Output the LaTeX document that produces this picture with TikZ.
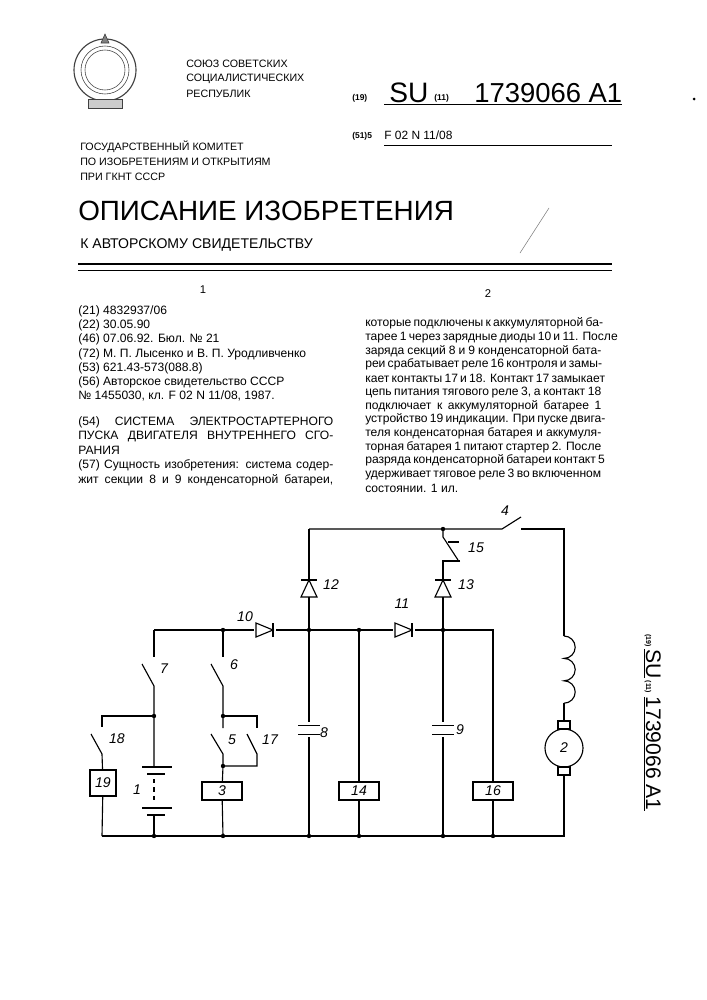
\documentclass[tikz,border=0pt]{standalone}
\usepackage{fontspec}
\setmainfont{Liberation Sans}
\usetikzlibrary{positioning}
\newcommand{\px}[1]{\fontsize{#1}{#1}\selectfont}
\tikzset{
  wire/.style={black, thick},
  lbl/.style={font=\px{10}\itshape},
  relay/.style={draw, thick, minimum width=1cm, minimum height=0.45cm, inner sep=0pt, font=\px{10}\itshape},
  dot/.style={circle, fill=black, inner sep=1.1pt},
  txt/.style={anchor=west, inner sep=0pt, font=\px{8.6}},
  pics/diodeR/.style={code={
    \draw[thick] (-9,-7) -- (-9,7) -- (8,0) -- cycle;
    \draw[thick] (8,-7) -- (8,7);}},
  pics/diodeU/.style={code={
    \draw[thick] (-8,9) -- (8,9) -- (0,-8) -- cycle;
    \draw[thick] (-8,-8) -- (8,-8);}},
  pics/capH/.style={code={
    \draw[thick] (-11,-4.5) -- (11,-4.5);
    \draw[thick] (-11,4.5) -- (11,4.5);}}
}
\begin{document}
\begin{tikzpicture}[x=0.025cm, y=-0.025cm]
  \useasboundingbox (0,0) rectangle (707,1000);
  % emblem
  \draw[black!75, thick] (105,70) circle (31);
  \draw[black!75] (105,70) circle (20);
  \draw[black!75] (105,70) circle (24);
  \draw[black!75, fill=black!50] (105,34) -- (109,43) -- (101,43) -- cycle;
  \draw[black!75, fill=black!20] (88,99) rectangle (122,108);
  % header
  \node[txt, font=\px{7.6}] at (186,64) {СОЮЗ СОВЕТСКИХ};
  \node[txt, font=\px{7.6}] at (186,79) {СОЦИАЛИСТИЧЕСКИХ};
  \node[txt, font=\px{7.6}] at (186,94) {РЕСПУБЛИК};
  \node[txt, font=\px{7.6}] at (80,147) {ГОСУДАРСТВЕННЫЙ КОМИТЕТ};
  \node[txt, font=\px{7.6}] at (80,162) {ПО ИЗОБРЕТЕНИЯМ И ОТКРЫТИЯМ};
  \node[txt, font=\px{7.6}] at (80,177) {ПРИ ГКНТ СССР};
  \node[txt, font=\px{6}\bfseries] at (352,98) {(19)};
  \node[txt, font=\px{20}] at (389,93) {SU};
  \node[txt, font=\px{6}\bfseries] at (434,98) {(11)};
  \node[txt, font=\px{19.5}] at (474,93) {1739066\ A1};
  \draw (384,104) -- (622,104);
  \fill (694,99) circle (1.5);
  \node[txt, font=\px{6}\bfseries] at (352,136) {(51)5};
  \node[txt, font=\px{8.5}] at (384,135) {F\ 02\ N\ 11/08};
  \draw (384,145) -- (612,145);
  \node[txt, font=\px{19.8}] at (78,211) {ОПИСАНИЕ ИЗОБРЕТЕНИЯ};
  \node[txt, font=\px{10}] at (80,245) {К АВТОРСКОМУ СВИДЕТЕЛЬСТВУ};
  \draw[gray] (549,208) -- (520,253);
  \draw[line width=1.6pt] (78,264) -- (612,264);
  \draw (78,270) -- (612,270);
  \node[font=\px{8}] at (203,290) {1};
  \node[font=\px{8}] at (488,294) {2};
  % left column
  \node[txt] at (78,311) {(21) 4832937/06};
  \node[txt] at (78,325) {(22) 30.05.90};
  \node[txt] at (78,339) {(46) 07.06.92. Бюл. № 21};
  \node[txt] at (78,354) {(72) М. П. Лысенко и В. П. Уродливченко};
  \node[txt] at (78,368) {(53) 621.43-573(088.8)};
  \node[txt] at (78,382) {(56) Авторское свидетельство СССР};
  \node[txt] at (78,396) {№ 1455030, кл. F 02 N 11/08, 1987.};
  \node[txt] at (78,422) {\makebox[255\dimexpr0.025cm\relax][s]{(54) СИСТЕМА ЭЛЕКТРОСТАРТЕРНОГО}};
  \node[txt] at (78,436) {\makebox[255\dimexpr0.025cm\relax][s]{ПУСКА ДВИГАТЕЛЯ ВНУТРЕННЕГО СГО-}};
  \node[txt] at (78,450) {РАНИЯ};
  \node[txt] at (78,465) {\makebox[255\dimexpr0.025cm\relax][s]{(57) Сущность изобретения: система содер-}};
  \node[txt] at (78,480) {\makebox[255\dimexpr0.025cm\relax][s]{жит секции 8 и 9 конденсаторной батареи,}};
  % right column
  \foreach \ln [count=\i] in {
    {которые подключены к аккумуляторной ба-},
    {тарее 1 через зарядные диоды 10 и 11. После},
    {заряда секций 8 и 9 конденсаторной бата-},
    {реи срабатывает реле 16 контроля и замы-},
    {кает контакты 17 и 18. Контакт 17 замыкает},
    {цепь питания тягового реле 3, а контакт 18},
    {подключает к аккумуляторной батарее 1},
    {устройство 19 индикации. При пуске двига-},
    {теля конденсаторная батарея и аккумуля-},
    {торная батарея 1 питают стартер 2. После},
    {разряда конденсаторной батареи контакт 5},
    {удерживает тяговое реле 3 во включенном}}
    \node[txt] at (365,310+13.7*\i) {\makebox[236\dimexpr0.025cm\relax][s]{\ln}};
  \node[txt] at (365,488) {состоянии. 1 ил.};
  % side number
  \node[rotate=-90, anchor=west, inner sep=0pt] at (652,634)
    {{\px{5}\bfseries (19)}\,{\px{15}\underline{SU}}\,{\px{5}\bfseries (11)}\ {\px{15}\underline{1739066\ A1}}};

  % circuit nodes
  \coordinate (tl) at (309,529);  \coordinate (t15) at (443,529);
  \coordinate (s4a) at (502,529); \coordinate (s4b) at (521,529);
  \coordinate (tr) at (564,529);
  \coordinate (bl) at (102,836);  \coordinate (br) at (564,836);
  \coordinate (m1) at (154,630);  \coordinate (m2) at (223,630);
  \coordinate (m3) at (309,630);  \coordinate (m4) at (359,630);
  \coordinate (m5) at (443,630);  \coordinate (m6) at (493,630);
  \coordinate (j7) at (154,716);  \coordinate (j6) at (223,716);
  \coordinate (j5) at (223,766);
  \node[relay, minimum width=0.65cm, minimum height=0.65cm] (r19) at (103,783) {19};
  \node[relay] (r3) at (222,791) {3};
  \node[relay] (r14) at (359,791) {14};
  \node[relay] (r16) at (493,791) {16};
  \node[draw, thick, circle, minimum size=0.95cm, inner sep=0pt, font=\px{10}\itshape] (mot) at (564,748) {2};

  % wiring
  \draw[wire] (bl) -- (br) -- (mot.south);
  \draw[wire] (tl) -- (s4a) -- ++(19,-12);
  \draw[wire] (s4b) -- (tr) -- (564,636);
  \draw[wire] (564,636) \foreach \k in {0,1,2} { arc (-90:90:11.2) };
  \draw[wire] (564,703) -- (mot.north);
  \draw[wire, fill=white] (558,721) rectangle (570,729);
  \draw[wire, fill=white] (558,767) rectangle (570,775);
  \draw[wire] (m1) -- (m6) -- (r16) -- (493,836);
  \draw[wire] (m4) -- (r14) -- (359,836);
  % column 309
  \draw[wire] (tl) -- (m3) -- (309,836);
  \fill[white] (300,722) rectangle (318,737);
  \pic at (309,730) {capH};
  \fill[white] (300,580) rectangle (318,597);
  \pic at (309,588) {diodeU};
  % column 443
  \draw[wire] (t15) -- (443,537) -- (458,560);
  \draw[wire] (448,542) -- (459,542);
  \draw[wire] (460,561) -- (443,561) -- (m5) -- (443,836);
  \fill[white] (434,722) rectangle (452,737);
  \pic at (443,730) {capH};
  \fill[white] (434,580) rectangle (452,597);
  \pic at (443,588) {diodeU};
  % diodes 10, 11
  \fill[white] (254,622) rectangle (276,638);
  \pic at (265,630) {diodeR};
  \fill[white] (393,622) rectangle (415,638);
  \pic at (404,630) {diodeR};
  % column 154
  \draw[wire] (m1) -- (154,657);
  \draw[wire] (142,664) -- (154,686) -- (j7) -- (154,767);
  \draw[wire] (142,767) -- (172,767);
  \draw[wire] (147,774) -- (165,774);
  \draw[wire, dashed] (154,779) -- (154,803);
  \draw[wire] (142,808) -- (172,808);
  \draw[wire] (147,815) -- (165,815) ;
  \draw[wire] (154,815) -- (154,836);
  \draw[wire] (j7) -- (102,716) -- (102,727);
  \draw[wire] (91,734) -- (102,754) -- (r19) -- (bl);
  % column 223
  \draw[wire] (m2) -- (223,657);
  \draw[wire] (211,664) -- (223,686) -- (j6) -- (223,728);
  \draw[wire] (211,734) -- (223,754) -- (j5) -- (r3) -- (223,836);
  \draw[wire] (j6) -- (257,716) -- (257,728);
  \draw[wire] (247,734) -- (257,754) -- (257,766) -- (j5);
  % junctions
  \foreach \p in {t15,m2,m3,m4,m5,j7,j6,j5}
    \node[dot] at (\p) {};
  \foreach \xx in {154,223,309,359,443,493}
    \node[dot] at (\xx,836) {};
  % labels
  \node[lbl] at (505,511) {4};
  \node[lbl] at (476,548) {15};
  \node[lbl] at (331,585) {12};
  \node[lbl] at (466,585) {13};
  \node[lbl] at (245,617) {10};
  \node[lbl] at (402,604) {11};
  \node[lbl] at (164,669) {7};
  \node[lbl] at (234,665) {6};
  \node[lbl] at (117,739) {18};
  \node[lbl] at (232,740) {5};
  \node[lbl] at (270,740) {17};
  \node[lbl] at (324,733) {8};
  \node[lbl] at (460,730) {9};
  \node[lbl] at (137,790) {1};
\end{tikzpicture}
\end{document}
